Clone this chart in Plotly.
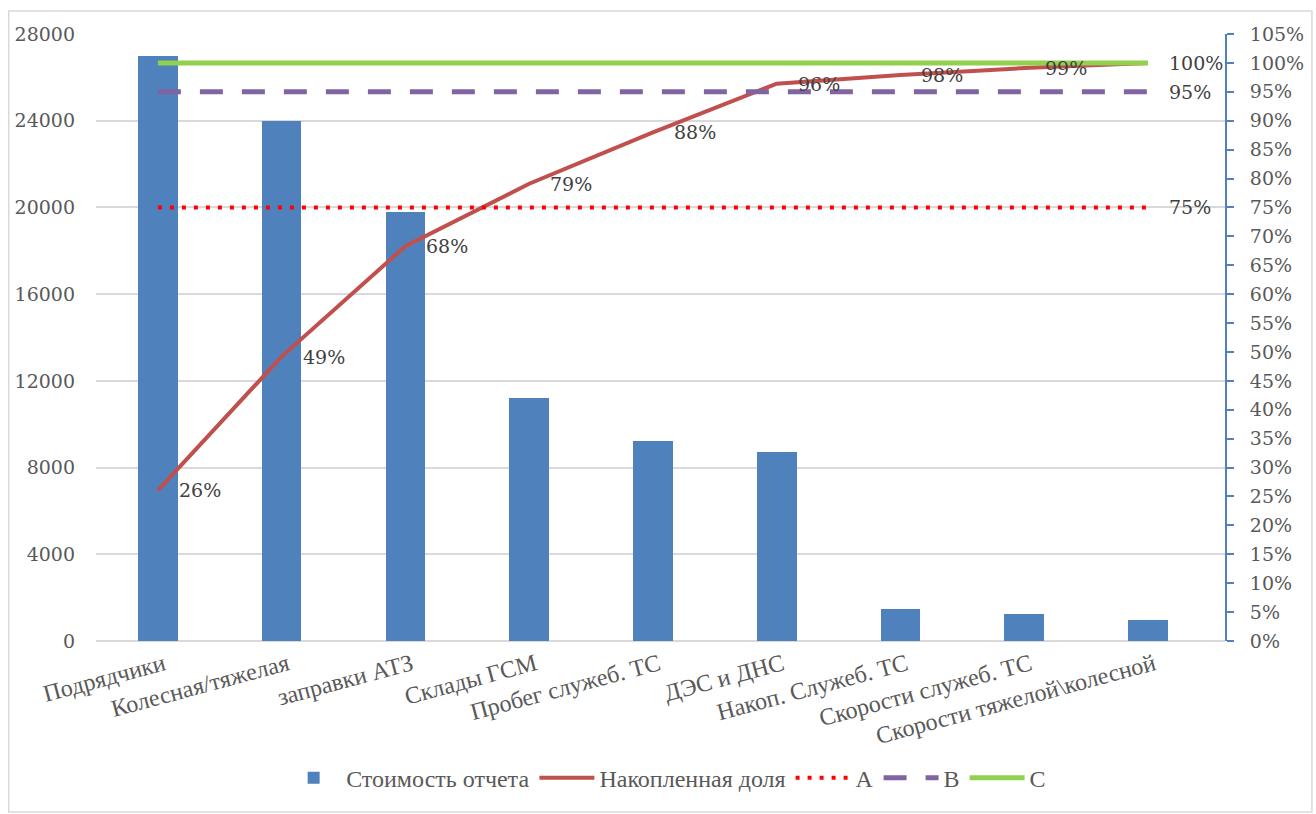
import plotly.graph_objects as go

categories = ["Подрядчики", "Колесная/тяжелая", "заправки АТЗ", "Склады ГСМ",
              "Пробег служеб. ТС", "ДЭС и ДНС", "Накоп. Служеб. ТС",
              "Скорости служеб. ТС", "Скорости тяжелой\\колесной"]
cost = [27000, 24000, 19800, 11200, 9230, 8720, 1480, 1245, 970]
cum_share = [0.2605, 0.492, 0.683, 0.791, 0.880, 0.964, 0.979, 0.991, 1.0]
cum_labels = ["26%", "49%", "68%", "79%", "88%", "96%", "98%", "99%", "100%"]
level_a = [0.75] * 9
level_b = [0.95] * 9
level_c = [1.0] * 9
left_ticks = [0, 4000, 8000, 12000, 16000, 20000, 24000, 28000]
left_tick_text = ["0", "4000", "8000", "12000", "16000", "20000", "24000", "28000"]
right_ticks = [i / 100 for i in range(0, 106, 5)]
right_tick_text = [f"{i}%" for i in range(0, 106, 5)]

FONT = "Liberation Serif"
NUMFONT = "DejaVu Serif"
GRAY = "#595959"

fig = go.Figure()
fig.add_trace(go.Bar(x=categories, y=cost, name="Стоимость отчета",
                     marker=dict(color="#4f81bd", line=dict(width=0)),
                     width=0.32, yaxis="y"))
fig.add_trace(go.Scatter(x=categories, y=cum_share, name="Накопленная доля",
                         mode="lines", line=dict(color="#c0504d", width=4),
                         yaxis="y2"))
fig.add_trace(go.Scatter(x=categories, y=level_a, name="A", mode="lines",
                         line=dict(color="#ff0000", width=4, dash="4px,8px"),
                         yaxis="y2"))
fig.add_trace(go.Scatter(x=categories, y=level_b, name="B", mode="lines",
                         line=dict(color="#8064a2", width=5, dash="23px,19px"),
                         yaxis="y2"))
fig.add_trace(go.Scatter(x=categories, y=level_c, name="C", mode="lines",
                         line=dict(color="#92d050", width=5),
                         yaxis="y2"))

annotations = []
for c, v, t in zip(categories, cum_share, cum_labels):
    annotations.append(dict(x=c, y=v, xref="x", yref="y2", text=t,
                            showarrow=False, xanchor="left", xshift=19,
                            font=dict(family=NUMFONT, size=19, color="#404040")))
for series, t in [(level_a, "75%"), (level_b, "95%")]:
    annotations.append(dict(x=categories[-1], y=series[-1], xref="x", yref="y2",
                            text=t, showarrow=False, xanchor="left", xshift=19,
                            font=dict(family=NUMFONT, size=19, color="#404040")))

fig.update_layout(
    width=1316, height=814,
    margin=dict(l=96, r=81, t=34, b=173),
    paper_bgcolor="white", plot_bgcolor="white",
    font=dict(family=FONT, size=23, color=GRAY),
    bargap=0,
    xaxis=dict(tickangle=-15, showgrid=False, showline=False, ticks="",
               ticklabelshift=6, ticklabelstandoff=4,
               tickfont=dict(family=FONT, size=24, color=GRAY)),
    yaxis=dict(range=[0, 28000], tickvals=left_ticks, ticktext=left_tick_text,
               showgrid=True,
               gridcolor="#d9d9d9", gridwidth=2, zeroline=True,
               zerolinecolor="#d9d9d9", zerolinewidth=2, showline=False,
               ticks="", ticklabelstandoff=20,
               tickfont=dict(family=NUMFONT, size=19, color=GRAY)),
    yaxis2=dict(range=[0, 1.05], tickvals=right_ticks, ticktext=right_tick_text,
                overlaying="y", side="right", showgrid=False, zeroline=False,
                showline=True, linecolor="#4f81bd", linewidth=2,
                ticks="outside", ticklen=7, tickwidth=2, tickcolor="#4f81bd",
                ticklabelstandoff=12,
                tickfont=dict(family=NUMFONT, size=19, color=GRAY)),
    legend=dict(orientation="h", x=0.505, xanchor="center", y=-0.226,
                yanchor="middle", font=dict(family=FONT, size=24, color=GRAY),
                traceorder="normal", itemwidth=55),
    annotations=annotations,
    shapes=[dict(type="rect", xref="paper", yref="paper",
                 x0=-0.0773, x1=1.077, y0=-0.2817, y1=1.0379,
                 line=dict(color="#d9d9d9", width=1.5), fillcolor="rgba(0,0,0,0)",
                 layer="below")],
)

fig.write_html("out.html")
